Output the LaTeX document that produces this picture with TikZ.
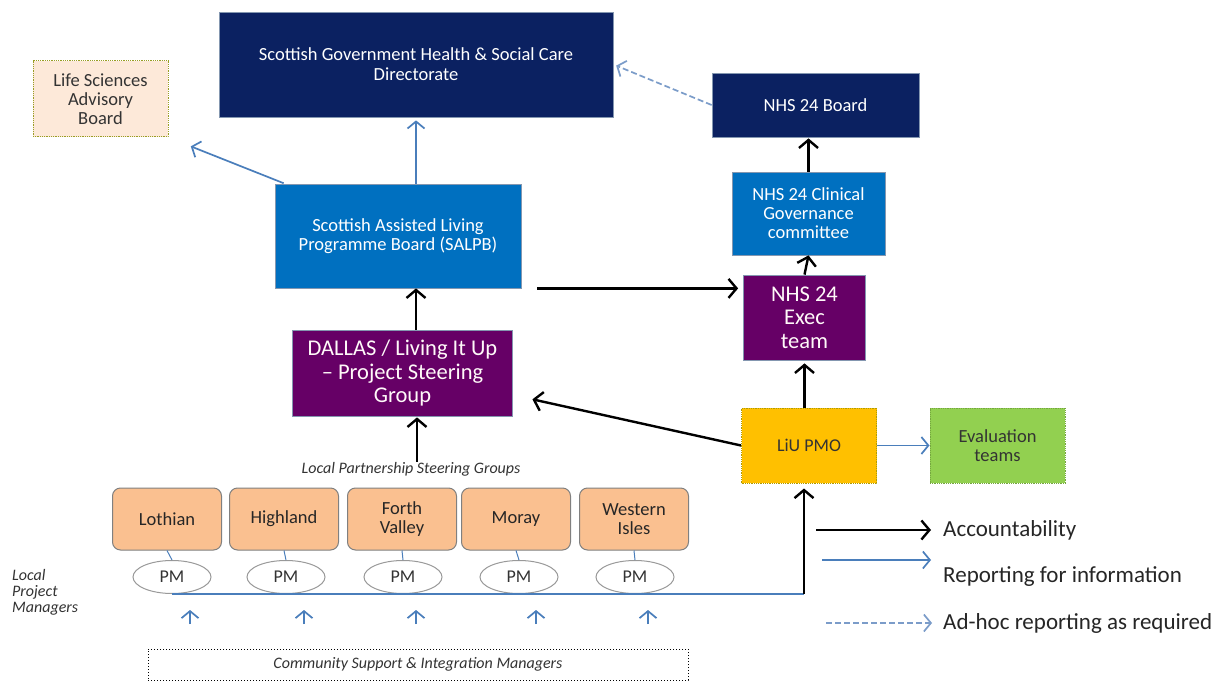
\documentclass[tikz,border=0pt]{standalone}
\usepackage{fontspec}
\setmainfont{Carlito}
\usepackage{tikz}
\usetikzlibrary{arrows.meta}
\usetikzlibrary{shapes,backgrounds}

\definecolor{navy}{HTML}{0B2161}
\definecolor{midblue}{HTML}{0070C0}
\definecolor{plum}{HTML}{660066}
\definecolor{tan}{HTML}{FAC090}
\definecolor{peach}{HTML}{FDE9D9}
\definecolor{amber}{HTML}{FFC000}
\definecolor{lime}{HTML}{92D050}
\definecolor{infoblue}{HTML}{4A7EBB}
\definecolor{adhocblue}{HTML}{7B9CC9}
\definecolor{edgegray}{HTML}{8497B0}

\tikzset{
  box/.style={draw=edgegray, line width=0.8pt, align=center, inner sep=0pt, text=white},
  navybox/.style={box, fill=navy, font={\fontsize{18.5}{20}\selectfont}},
  bluebox/.style={box, fill=midblue, font={\fontsize{18.5}{19}\selectfont}},
  purplebox/.style={box, fill=plum, text=white!90!pink, font={\fontsize{22.5}{23.5}\selectfont}},
  dotbox/.style={box, densely dotted, line width=1pt, text=black!80},
  region/.style={draw=gray, line width=1pt, rounded corners=8pt, fill=tan, align=center,
    minimum width=109, minimum height=62, inner sep=0pt, text=black!85,
    font={\fontsize{18.5}{19}\selectfont}},
  pmnode/.style={ellipse, draw=gray!80, line width=1pt, fill=white, minimum width=78,
    minimum height=33, inner sep=0pt, text=black!80, font={\fontsize{18}{18}\selectfont}},
  note/.style={font={\fontsize{16}{16}\selectfont\itshape}, text=black!80, inner sep=0pt},
  legendtext/.style={anchor=west, inner sep=0pt, text=black!85, font={\fontsize{23}{24}\selectfont}},
  acc/.style={-{Straight Barb[length=8pt,width=19pt]}, line width=2.4pt, black},
  info/.style={-{Straight Barb[length=7pt,width=17pt]}, line width=1.7pt, infoblue},
  adhoc/.style={info, dash pattern=on 6pt off 3pt, adhocblue}
}

\begin{document}
\begin{tikzpicture}[x=1pt,y=-1pt]
\useasboundingbox[fill=white] (0,0) rectangle (1219,682);

% top level
\node[navybox, minimum width=394, minimum height=105] (sghscd) at (416,64.5)
  {Scottish Government Health \& Social Care\\Directorate};
\node[dotbox, draw=olive!60!lime, fill=peach, minimum width=135, minimum height=76,
  font={\fontsize{18.5}{19}\selectfont}] (lsab) at (100.5,99) {Life Sciences\\Advisory\\Board};
\node[navybox, minimum width=207, minimum height=64] (board) at (815.5,105) {NHS 24 Board};
\node[bluebox, minimum width=153, minimum height=83] (clin) at (808.5,213.5)
  {NHS 24 Clinical\\Governance\\committee};
\node[bluebox, minimum width=246, minimum height=104] (salpb) at (398,236)
  {Scottish Assisted Living\\Programme Board (SALPB)};
\node[purplebox, minimum width=122, minimum height=85] (exec) at (804.5,317.5)
  {NHS 24\\Exec\\team};
\node[purplebox, minimum width=220, minimum height=86] (dallas) at (402.5,373)
  {DALLAS / Living It Up\\– Project Steering\\Group};
\node[dotbox, draw=olive!70!amber, fill=amber, minimum width=135, minimum height=75,
  font={\fontsize{18}{19}\selectfont}] (liu) at (809,445.5) {LiU PMO};
\node[dotbox, draw=lime!80!black, fill=lime, minimum width=135, minimum height=75,
  font={\fontsize{18.5}{19}\selectfont}] (eval) at (997.5,445.5) {Evaluation\\teams};

\node[note] (lpsg) at (411,469) {Local Partnership Steering Groups};

% local partnerships and their project managers
\foreach \x/\y/\name [count=\i] in {167/172/Lothian, 284/286/Highland, 402/403/Forth\\Valley,
    516/519/Moray, 634/635/Western\\Isles}
{
  \node[region] (reg\i) at (\x,519) {\name};
  \node[pmnode] (pm\i) at (\y,577) {PM};
  \draw[infoblue, line width=1pt] (reg\i.south) -- (pm\i.north);
}

\node[note, anchor=west, align=left] (lpm) at (12,592) {Local\\Project\\Managers};
\node[draw, dotted, line width=1pt, minimum width=540, minimum height=31, note] (csim)
  at (418,664.5) {Community Support \& Integration Managers};

\coordinate (hub) at (804,594);
\draw[infoblue, line width=1.7pt] (pm1.south) -- (hub);
\draw[acc, shorten >=5pt] (hub) -- (hub |- liu.south);

\foreach \x in {190,304,416,536,648}
\draw[info] (\x,624) -- (\x,610);

% accountability
\draw[acc, shorten >=1pt] ([xshift=6pt]lpsg.north) -- ([xshift=6pt]lpsg.north |- dallas.south);
\draw[acc] ([xshift=13.5pt]dallas.north) -- ([xshift=13.5pt]dallas.north |- salpb.south);
\draw[acc, shorten >=20pt] (liu.west) -- ([yshift=-22pt]dallas.east);
\draw[acc, shorten >=3pt] (exec.south |- liu.north) -- (exec.south);
\draw[acc, shorten <=16pt, shorten >=5pt] (salpb.south east) -- (salpb.south east -| exec.west);
\draw[acc] (exec.north) -- (clin.south);
\draw[acc, shorten >=1pt] (clin.north) -- (clin.north |- board.south);

% reporting
\draw[info, shorten >=3pt] (salpb.north -| sghscd.south) -- (sghscd.south);
\draw[info, shorten <=1pt, shorten >=24pt] ([xshift=10pt]salpb.north west) -- (lsab.south east);
\draw[adhoc, shorten >=3pt] (board.west) -- (sghscd.east);
\draw[info] (liu.east) -- (eval.west);

% legend
\node[legendtext] (lacc) at (943,530) {Accountability};
\node[legendtext] (lrep) at (943,577) {Reporting for information};
\node[legendtext] (ladh) at (943,623) {Ad-hoc reporting as required};
\coordinate (k1) at (816,530);
\coordinate (k2) at (822,560);
\coordinate (k3) at (826,623);
\draw[acc, shorten >=12pt] (k1) -- (lacc.west);
\draw[info, shorten >=12pt] (k2) -- (k2 -| lacc.west);
\draw[adhoc, shorten >=11pt] (k3) -- (ladh.west);
\end{tikzpicture}
\end{document}
